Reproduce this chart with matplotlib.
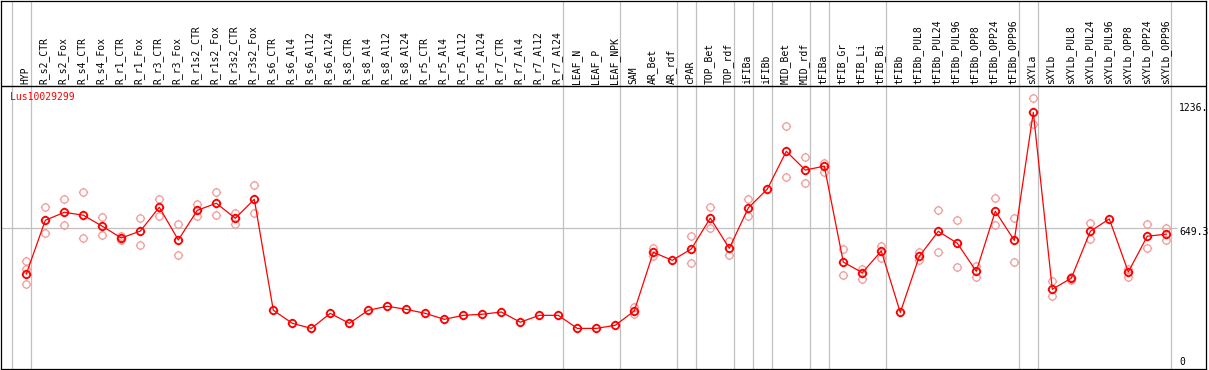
import matplotlib
matplotlib.use("Agg")
import matplotlib.pyplot as plt
import numpy as np
from matplotlib.path import Path

categories = ["HYP", "R_s2_CTR", "R_s2_Fox", "R_s4_CTR", "R_s4_Fox", "R_r1_CTR", "R_r1_Fox",
              "R_r3_CTR", "R_r3_Fox", "R_r1s2_CTR", "R_r1s2_Fox", "R_r3s2_CTR", "R_r3s2_Fox",
              "R_s6_CTR", "R_s6_Al4", "R_s6_Al12", "R_s6_Al24", "R_s8_CTR", "R_s8_Al4",
              "R_s8_Al12", "R_s8_Al24", "R_r5_CTR", "R_r5_Al4", "R_r5_Al12", "R_r5_Al24",
              "R_r7_CTR", "R_r7_Al4", "R_r7_Al12", "R_r7_Al24", "LEAF_N", "LEAF_P", "LEAF_NPK",
              "SAM", "AR_Bet", "AR_rdf", "cPAR", "TOP_Bet", "TOP_rdf", "iFIBa", "iFIBb",
              "MID_Bet", "MID_rdf", "tFIBa", "tFIB_Gr", "tFIB_Li", "tFIB_Bi", "tFIBb",
              "tFIBb_PUL8", "tFIBb_PUL24", "tFIBb_PUL96", "tFIBb_OPP8", "tFIBb_OPP24",
              "tFIBb_OPP96", "sXYLa", "sXYLb", "sXYLb_PUL8", "sXYLb_PUL24", "sXYLb_PUL96",
              "sXYLb_OPP8", "sXYLb_OPP24", "sXYLb_OPP96"]

means = [441, 684, 720, 707, 657, 604, 635, 743, 595, 729, 761, 693, 779,
         277, 218, 195, 263, 218, 277, 295, 281, 263, 236, 254, 259, 269, 223, 254, 254,
         195, 195, 209, 274, 539, 503, 554, 694, 557, 740, 825, 996, 911, 929,
         495, 447, 545, 267, 521, 634, 580, 453, 725, 593, 1172, 372, 422, 634, 690,
         450, 612, 621]

replicates = [[500, 462, 394], [743, 625], [779, 661], [812, 602], [699, 616], [611, 597],
              [693, 571], [779, 702], [666, 526], [758, 702], [812, 708], [717, 668],
              [842, 716],
              [], [], [], [], [], [], [], [], [], [], [], [], [], [], [], [], [], [], [],
              [293, 259], [560, 521], [], [612, 489], [743, 649], [590, 526], [779, 702], [],
              [1109, 881], [969, 851], [944, 902], [554, 435], [462, 420], [569, 515], [],
              [542, 504], [729, 539], [684, 471], [479, 429], [783, 664], [693, 494],
              [1236, 1118], [408, 340], [429, 414], [670, 598], [], [465, 429], [666, 557],
              [649, 593]]

gene = "Lus10029299"
right_labels = ["1236.", "649.3", "0"]
ref_value = 649.3
separators_after = [-1, 0, 28, 31, 34, 35, 37, 38, 39, 41, 42, 45, 52, 53, 60]

W, H = 1209, 370
fig = plt.figure(figsize=(W / 100, H / 100), dpi=100)
ax = fig.add_axes([1 / W, 1 / H, 1205 / W, 368.5 / H])

def py(px):
    # convert a pixel row to the value scale of the chart
    return (371.5 - px) * 4.523

def pxx(px):
    return (px - 26.3) / 19.0

ax.set_xlim(pxx(1), pxx(1206))
ax.set_ylim(py(369), py(0.5))
ax.set_xticks([])
ax.set_yticks([])
for s in ax.spines.values():
    s.set_linewidth(0.9)
    s.set_color("black")

# custom circle marker with small stubs
theta = np.linspace(0, 2 * np.pi, 40)
circ_verts = [(np.cos(t), np.sin(t)) for t in theta]
circ_codes = [Path.MOVETO] + [Path.LINETO] * (len(theta) - 1)
stub_verts, stub_codes = [], []
for dx, dy in [(1, 0), (-1, 0), (0, 1), (0, -1)]:
    stub_verts += [(dx * 1.0, dy * 1.0), (dx * 1.3, dy * 1.3)]
    stub_codes += [Path.MOVETO, Path.LINETO]
marker = Path(circ_verts + stub_verts, circ_codes + stub_codes)

gray = "#c0c0c0"
n = len(categories)
x = np.arange(n)

for i in separators_after:
    ax.axvline(i + 0.23, color=gray, lw=0.9, zorder=1)
ax.hlines(ref_value, pxx(1), pxx(1177), color=gray, lw=0.9, zorder=1)
ax.axhline(py(85.7), color="black", lw=1.0, zorder=3)

# replicates
for i, reps in enumerate(replicates):
    if reps:
        ax.plot([i] * len(reps), reps, linestyle="none", marker=marker, ms=6.8,
                mfc="none", mec="#f09a9a", mew=0.9, zorder=2)

ax.plot(x, means, color="red", lw=0.9, zorder=4)
ax.plot(x, means, linestyle="none", marker=marker, ms=6.8, mfc="none", mec="red",
        mew=1.3, zorder=5)

mono = "DejaVu Sans Mono"
for i, c in enumerate(categories):
    ax.text(i - 0.05, py(83.5), c, rotation=90, ha="center", va="bottom",
            fontsize=7, family=mono, color="black")

ax.text(pxx(10), py(97), gene, ha="left", va="center", fontsize=7, family=mono,
        color="red")

for lab, ypx in zip(right_labels, [107.5, 232, 361.7]):
    ax.text(pxx(1179), py(ypx), lab, ha="left", va="center", fontsize=7, family=mono,
            color="black")

fig.savefig("out.png", dpi=100)
